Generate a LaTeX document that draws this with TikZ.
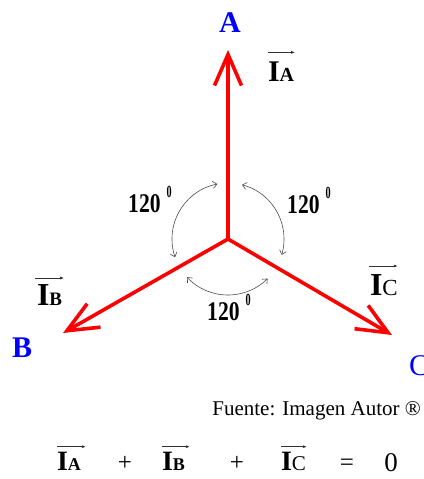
\documentclass[tikz,border=0pt]{standalone}
\usepackage{fontspec}
\usepackage{graphicx}
\setmainfont{Liberation Serif}
\usetikzlibrary{arrows.meta}
\newcommand{\Ilabel}[3]{{\fontsize{#1}{#1}\selectfont\bfseries I}{\fontsize{#2}{#2}\selectfont #3}}
\newcommand{\angtext}{{\fontsize{27}{27}\selectfont\bfseries\scalebox{0.8}[1]{120}}\hspace{6pt}\raisebox{15pt}{\fontsize{17}{17}\selectfont\bfseries\scalebox{0.6}[1]{0}}}
\begin{document}
\begin{tikzpicture}[x=1pt,y=-1pt,
  phasor/.style={draw=red, line width=3.6pt, -{Straight Barb[length=31pt,width=27pt,line width=3.6pt]}},
  anglearc/.style={draw=black!70, line width=0.6pt, {Straight Barb[length=4pt,width=7pt]}-{Straight Barb[length=4pt,width=7pt]}},
  vecarr/.style={draw=black!80, line width=0.7pt, -{Latex[length=4pt,width=3pt]}},
  ilab/.style={inner sep=0pt, outer sep=0pt, anchor=base west},
  pt/.style={inner sep=0pt, font=\fontsize{30}{30}\selectfont\bfseries, text=blue},
  angl/.style={inner sep=0pt, anchor=base west},
  eq/.style={inner sep=0pt, anchor=base, font=\fontsize{25}{25}\selectfont}
]
\useasboundingbox (0,0) rectangle (423,479);
% phasors
\coordinate (O) at (228,239);
\coordinate (tA) at (228,50);
\coordinate (tB) at (63,333);
\coordinate (tC) at (392,335);
\draw[phasor] (O) -- (tA);
\draw[phasor] (O) -- (tB);
\draw[phasor] (O) -- (tC);
% point labels
\node[pt, anchor=base] (A) at (230,32) {A};
\node[pt, anchor=base west] (B) at (12,357) {B};
\node[pt, anchor=base west, font=\fontsize{30}{30}\selectfont] (C) at (409,375) {C};
% current labels
\node[ilab] (ia) at (268,81) {\Ilabel{30}{20}{\bfseries A}};
\draw[vecarr] ([yshift=9pt]ia.north west) -- ([xshift=1pt,yshift=9pt]ia.north east);
\node[ilab] (ib) at (37,305) {\Ilabel{32}{19}{\bfseries B}};
\draw[vecarr] ([xshift=-2pt,yshift=6pt]ib.north west) -- ([xshift=2pt,yshift=6pt]ib.north east);
\node[ilab] (ic) at (370,295) {\Ilabel{32}{23}{C}};
\draw[vecarr] ([xshift=-1pt,yshift=8pt]ic.north west) -- ([yshift=8pt]ic.north east);
% angle arcs
\draw[anglearc] (O) ++(-101:56) arc[start angle=-101, end angle=-199, radius=56];
\draw[anglearc] (O) ++(-75.5:56) arc[start angle=-75.5, end angle=16.5, radius=56];
\draw[anglearc] (O) ++(-223:56) arc[start angle=-223, end angle=-315, radius=56];
\node[angl] (a1) at (128,212) {\angtext};
\node[angl] (a2) at (287,213) {\angtext};
\node[angl] (a3) at (207,320) {\angtext};
% source
\node[inner sep=0pt, anchor=base east, font=\fontsize{21}{21}\selectfont] (src) at (421,415) {Fuente: Imagen Autor ®};
% equation
\node[ilab] (ea) at (57,470) {\Ilabel{28}{18}{\bfseries A}};
\draw[vecarr] ([yshift=5pt]ea.north west) -- ([xshift=5pt,yshift=5pt]ea.north east);
\node[eq] (p1) at (125,470) {+};
\node[ilab] (eb) at (162,470) {\Ilabel{28}{18}{\bfseries B}};
\draw[vecarr] ([yshift=5pt]eb.north west) -- ([xshift=5pt,yshift=5pt]eb.north east);
\node[eq] (p2) at (237,470) {+};
\node[ilab] (ec) at (281,470) {\Ilabel{28}{21}{C}};
\draw[vecarr] ([yshift=5pt]ec.north west) -- ([xshift=1pt,yshift=5pt]ec.north east);
\node[eq] (eqs) at (347,470) {=};
\node[eq, font=\fontsize{27}{27}\selectfont] (zero) at (391,471) {0};
\end{tikzpicture}
\end{document}
